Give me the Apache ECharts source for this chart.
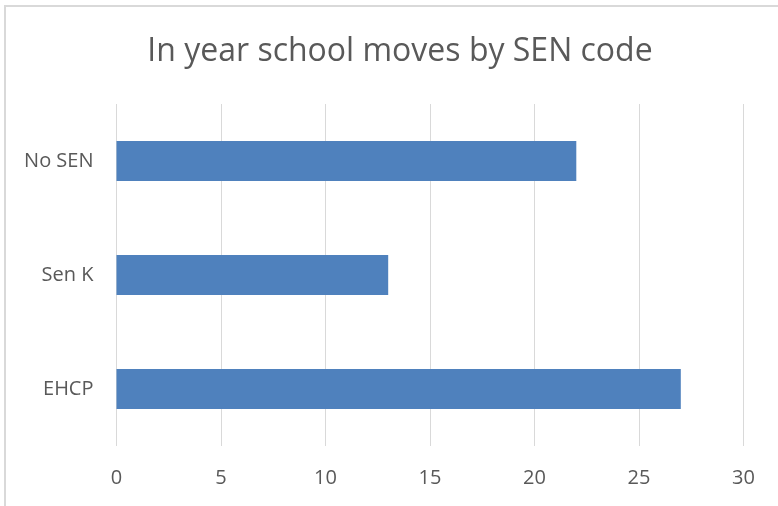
<!DOCTYPE html>
<html><head><meta charset="utf-8">
<script src="https://cdn.jsdelivr.net/npm/echarts@6/dist/echarts.min.js"></script>
<style>html,body{margin:0;padding:0;background:#fff}#c{width:778px;height:506px}</style>
</head><body><div id="c"></div>
<script>
var categories = ['EHCP', 'Sen K', 'No SEN'];
var values = [27, 13, 22];
var titleText = 'In year school moves by SEN code';
var chart = echarts.init(document.getElementById('c'));
chart.setOption({
  animation: false,
  backgroundColor: '#fff',
  title: { text: titleText, left: 395, top: 31, textAlign: 'center',
    textStyle: { fontFamily: 'Open Sans', fontSize: 32, fontWeight: 'normal', color: '#595959' } },
  graphic: [{ type: 'rect', shape: { x: 5, y: 6, width: 800, height: 600 },
    style: { fill: 'none', stroke: '#d9d9d9', lineWidth: 2 } }],
  grid: { left: 116.5, right: 34.5, top: 104, bottom: 60 },
  xAxis: { type: 'value', min: 0, max: 30, interval: 5,
    axisLine: { show: false }, axisTick: { show: false },
    splitLine: { lineStyle: { color: '#d9d9d9', width: 1 } },
    axisLabel: { margin: 22, color: '#595959', fontSize: 20, fontFamily: 'Open Sans' } },
  yAxis: { type: 'category', data: categories,
    axisLine: { show: false }, axisTick: { show: false },
    axisLabel: { margin: 23, color: '#595959', fontSize: 20, fontFamily: 'Open Sans' } },
  series: [{ type: 'bar', data: values, barWidth: 40,
    itemStyle: { color: '#4f81bd' } }]
});
</script></body></html>
